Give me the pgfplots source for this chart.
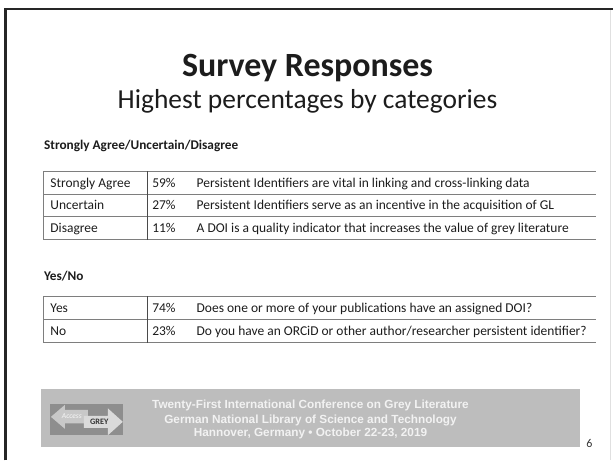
\documentclass[border=0pt]{standalone}
\usepackage{pgfplots}
\pgfplotsset{compat=1.18}
\usepackage{pgfplotstable}
\usepackage{fontspec}
\setmainfont{Carlito}
\newfontfamily\arialfont{Liberation Sans}
\definecolor{txt}{HTML}{1C1C1C}
\definecolor{rulec}{HTML}{7E7E7E}
\definecolor{sepc}{HTML}{4A4A4A}
\definecolor{footbg}{HTML}{BDBDBD}
\definecolor{foottxt}{HTML}{F2F2F2}
\definecolor{logobg}{HTML}{8E8E8E}
\definecolor{arrowL}{HTML}{C8C8C8}
\definecolor{arrowR}{HTML}{DADADA}

% row centre (px from top), category, percentage, statement
\pgfplotstableread[col sep=comma]{
y,cat,pct,stmt
183.1,Strongly Agree,59,Persistent Identifiers are vital in linking and cross-linking data
205.9,Uncertain,27,Persistent Identifiers serve as an incentive in the acquisition of GL
228.6,Disagree,11,A DOI is a quality indicator that increases the value of grey literature
}\agreetable
\pgfplotstableread[col sep=comma]{
y,cat,pct,stmt
308.3,Yes,74,Does one or more of your publications have an assigned DOI?
331.7,No,23,Do you have an ORCiD or other author/researcher persistent identifier?
}\yesnotable

\pgfplotsset{
  celltext/.style={draw=none, mark=none, forget plot,
    point meta=explicit symbolic, nodes near coords,
    every node near coord/.append style={anchor=base west, inner sep=0pt, outer sep=0pt,
      font=\fontsize{13.5}{16}\selectfont, text=txt}},
}

\begin{document}
\begin{tikzpicture}
\begin{axis}[
  hide axis, scale only axis,
  width=614pt, height=461pt,
  xmin=0, xmax=614, ymin=0, ymax=461, y dir=reverse,
  clip=false,
]
\path (axis cs:0,0) rectangle (axis cs:614,461);
% slide frame
\draw[line width=2pt, color=black!85] (axis cs:6,9) -- (axis cs:614,9);
\draw[line width=3pt, color=black!85] (axis cs:6,461) -- (axis cs:6,8);
\draw[line width=0.8pt, color=black!12] (axis cs:611.5,10) -- (axis cs:611.5,461);

% titles
\node[anchor=base, text=txt, font={\fontsize{34}{40}\selectfont\bfseries}] at (axis cs:308,77) {Survey Responses};
\node[anchor=base, text=txt, font={\fontsize{27.5}{32}\selectfont}] at (axis cs:308,108.5) {Highest percentages by categories};
\node[anchor=base west, inner sep=0pt, text=txt, font={\fontsize{13.3}{16}\selectfont\bfseries}] at (axis cs:44,149.5) {Strongly Agree/Uncertain/Disagree};
\node[anchor=base west, inner sep=0pt, text=txt, font={\fontsize{13.3}{16}\selectfont\bfseries}] at (axis cs:44,281) {Yes/No};

% table 1 rules
\draw[line width=1pt, color=rulec] (axis cs:44,171.7) -- (axis cs:597,171.7);
\draw[line width=1pt, color=rulec] (axis cs:44,194.5) -- (axis cs:597,194.5);
\draw[line width=1pt, color=rulec] (axis cs:44,217.2) -- (axis cs:597,217.2);
\draw[line width=1pt, color=rulec] (axis cs:44,240) -- (axis cs:597,240);
\draw[line width=1pt, color=rulec] (axis cs:44,171.7) -- (axis cs:44,240);
\draw[line width=1.4pt, color=sepc] (axis cs:147.5,171.7) -- (axis cs:147.5,240);
% table 2 rules
\draw[line width=1pt, color=rulec] (axis cs:44,296.7) -- (axis cs:597,296.7);
\draw[line width=1pt, color=rulec] (axis cs:44,320) -- (axis cs:597,320);
\draw[line width=1pt, color=rulec] (axis cs:44,343.3) -- (axis cs:597,343.3);
\draw[line width=1pt, color=rulec] (axis cs:44,296.7) -- (axis cs:44,343.3);
\draw[line width=1.4pt, color=sepc] (axis cs:147.5,296.7) -- (axis cs:147.5,343.3);

% table 1 cells
\addplot[celltext] table[x expr=50.5, y expr=\thisrow{y}+4.3, meta=cat] {\agreetable};
\addplot[celltext, nodes near coords={\pgfplotspointmeta\%}] table[x expr=152.5, y expr=\thisrow{y}+4.3, meta=pct] {\agreetable};
\addplot[celltext] table[x expr=197, y expr=\thisrow{y}+4.3, meta=stmt] {\agreetable};
% table 2 cells
\addplot[celltext] table[x expr=50.5, y expr=\thisrow{y}+4.3, meta=cat] {\yesnotable};
\addplot[celltext, nodes near coords={\pgfplotspointmeta\%}] table[x expr=152.5, y expr=\thisrow{y}+4.3, meta=pct] {\yesnotable};
\addplot[celltext] table[x expr=197, y expr=\thisrow{y}+4.3, meta=stmt] {\yesnotable};

% footer
\fill[footbg] (axis cs:41,390) rectangle (axis cs:581,448);
\fill[logobg] (axis cs:50,405) rectangle (axis cs:123.5,435.5);
\fill[arrowL] (axis cs:51,417.5) -- (axis cs:65,405.5) -- (axis cs:65,410.5) -- (axis cs:88,410.5) -- (axis cs:88,424) -- (axis cs:65,424) -- (axis cs:65,429.5) -- cycle;
\node[text=white!85!arrowL, font={\fontsize{7.5}{8}\selectfont\itshape}] at (axis cs:72,416.5) {Access};
\fill[arrowR] (axis cs:84,416.5) -- (axis cs:108,416.5) -- (axis cs:108,409) -- (axis cs:123,422.5) -- (axis cs:108,436) -- (axis cs:108,428.5) -- (axis cs:84,428.5) -- cycle;
\node[text=black!80, font={\fontsize{8.3}{9}\selectfont\bfseries}] at (axis cs:99.5,422.5) {GREY};
\node[anchor=base, text=foottxt, font={\arialfont\fontsize{11.8}{14}\selectfont\bfseries}] at (axis cs:311,409.3) {Twenty-First International Conference on Grey Literature};
\node[anchor=base, text=foottxt, font={\arialfont\fontsize{11.8}{14}\selectfont\bfseries}] at (axis cs:311,423.8) {German National Library of Science and Technology};
\node[anchor=base, text=foottxt, font={\arialfont\fontsize{11.8}{14}\selectfont\bfseries}] at (axis cs:311,437.5) {Hannover, Germany • October 22-23, 2019};
\node[anchor=base west, inner sep=0pt, text=black!80, font={\fontsize{12}{14}\selectfont}] at (axis cs:587,448) {6};
\end{axis}
\end{tikzpicture}
\end{document}
